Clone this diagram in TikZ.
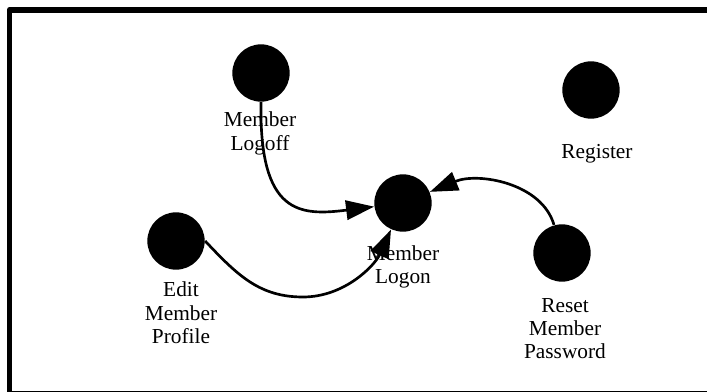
\documentclass[tikz,border=0pt]{standalone}
\usepackage{fontspec}
\setmainfont{Liberation Serif}
\usetikzlibrary{arrows.meta}

\tikzset{every picture/.style={line width=0.75pt}}
\tikzset{
  usecase/.style={circle, fill=black, draw=none, minimum size=43pt, inner sep=0pt},
  caption/.style={align=center, inner sep=0.75pt, font=\fontsize{16}{17.5}\selectfont},
  assoc/.style={line width=2pt, -{Triangle[length=21pt,width=14.5pt]}},
}

\begin{document}
\begin{tikzpicture}[x=0.75pt,y=0.75pt,yscale=-1,xscale=1]
\clip (0,0) rectangle (707,392);

%Shape: Rectangle [frame]
\draw [line width=4.3pt, line join=round] (9.5,10) rectangle (760,393.5);

%Shape: Circle [use cases]
\node [usecase] (logoff) at (261,73) {};
\node [usecase] (register) at (591,90) {};
\node [usecase] (logon) at (403,203) {};
\node [usecase] (edit) at (176,241) {};
\node [usecase] (reset) at (562,253) {};

%Curve Lines [logoff -> logon]
\draw [assoc] (logoff.south) .. controls (259,215) and (300,216) .. (logon);
%Curve Lines [edit -> logon]
\draw [assoc] (edit.east) .. controls (238,276) and (260,297) .. (303,297) .. controls (345,297) and (375,265) .. (logon);
%Curve Lines [reset -> logon]
\draw [assoc] (reset) .. controls (542,183) and (478,172) .. (logon);

% Text Node
\node [caption] (logofftxt) at (260,133.5) {Member\\Logoff};
% Text Node
\node [caption] (logontxt) at (403,267) {Member\\Logon};
% Text Node
\node [caption] (registertxt) at (597,154) {Register};
% Text Node
\node [caption] (edittxt) at (181,313) {Edit\\Member\\Profile};
% Text Node
\node [caption] (resettxt) at (565,328.5) {Reset\\Member\\Password};

\end{tikzpicture}
\end{document}
